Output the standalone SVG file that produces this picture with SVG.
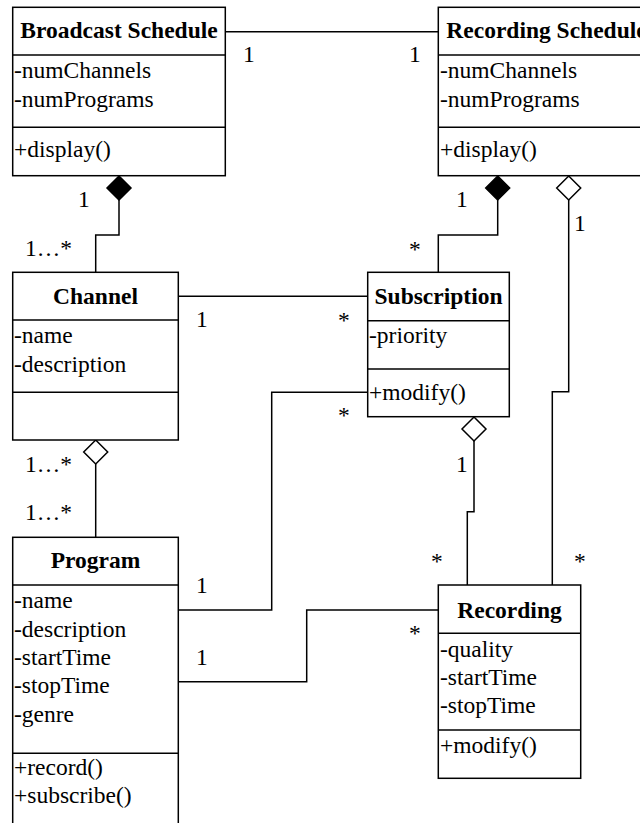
<svg xmlns="http://www.w3.org/2000/svg" width="640" height="823" viewBox="0 0 640 823" font-family="'Liberation Serif', 'Times New Roman', Times, serif">
<style>
  text { font-family: "Liberation Serif", "Times New Roman", Times, serif; font-size: 23.5px; fill: #000; }
  .title { font-weight: bold; text-anchor: middle; }
  .box { fill: #fff; stroke: #000; stroke-width: 1.5; }
  .div { stroke: #000; stroke-width: 1.5; }
  .conn { fill: none; stroke: #000; stroke-width: 1.5; }
  .filled { fill: #000; stroke: #000; stroke-width: 1.5; }
  .hollow { fill: #fff; stroke: #000; stroke-width: 1.5; }
</style>
<rect width="640" height="823" fill="#fff"/>

<g id="connectors">
  <line class="conn" x1="225" y1="31.7" x2="438.3" y2="31.7"/>
  <polyline class="conn" points="119,200 119,235 95.7,235 95.7,272.3"/>
  <polyline class="conn" points="497.7,200 497.7,235 438.3,235 438.3,272.3"/>
  <polyline class="conn" points="568.7,200 568.7,391.7 552.3,391.7 552.3,585"/>
  <line class="conn" x1="178.3" y1="296.3" x2="367.7" y2="296.3"/>
  <polyline class="conn" points="367.7,392.3 271.7,392.3 271.7,610 178.3,610"/>
  <polyline class="conn" points="178.3,681.7 306.7,681.7 306.7,610 438.3,610"/>
  <polyline class="conn" points="474,441 474,511.7 467.3,511.7 467.3,585"/>
  <line class="conn" x1="95.7" y1="464" x2="95.7" y2="537.3"/>
  <polygon class="filled" points="119,176 131,188 119,200 107,188"/>
  <polygon class="filled" points="497.7,176 509.7,188 497.7,200 485.7,188"/>
  <polygon class="hollow" points="568.7,176 580.7,188 568.7,200 556.7,188"/>
  <polygon class="hollow" points="474,417 486,429 474,441 462,429"/>
  <polygon class="hollow" points="95.7,440 107.7,452 95.7,464 83.7,452"/>
  <text x="243" y="62">1</text>
  <text x="409" y="62">1</text>
  <text x="78" y="206.7">1</text>
  <text x="25" y="256">1…*</text>
  <text x="456" y="206.7">1</text>
  <text x="409" y="257">*</text>
  <text x="574" y="230.7">1</text>
  <text x="196" y="327">1</text>
  <text x="338" y="328">*</text>
  <text x="338" y="423">*</text>
  <text x="25" y="471.7">1…*</text>
  <text x="25" y="520">1…*</text>
  <text x="456" y="471.7">1</text>
  <text x="431" y="569">*</text>
  <text x="574" y="569">*</text>
  <text x="196" y="593">1</text>
  <text x="196" y="665">1</text>
  <text x="409" y="641">*</text>
</g>

<g id="broadcast-schedule">
  <rect class="box" x="12.7" y="7.3" width="212.6" height="168.4"/>
  <line class="div" x1="12.7" y1="55" x2="225.3" y2="55"/>
  <line class="div" x1="12.7" y1="127.3" x2="225.3" y2="127.3"/>
  <text class="title" x="119" y="38.3">Broadcast Schedule</text>
  <text x="14" y="78.3">-numChannels</text>
  <text x="14" y="106.7">-numPrograms</text>
  <text x="14" y="157">+display()</text>
</g>

<g id="recording-schedule">
  <rect class="box" x="438.3" y="7.3" width="214" height="168.4"/>
  <line class="div" x1="438.3" y1="55" x2="652.3" y2="55"/>
  <line class="div" x1="438.3" y1="127.3" x2="652.3" y2="127.3"/>
  <text class="title" x="546.5" y="38.3">Recording Schedule</text>
  <text x="440" y="78.3">-numChannels</text>
  <text x="440" y="106.7">-numPrograms</text>
  <text x="440" y="157">+display()</text>
</g>

<g id="channel">
  <rect class="box" x="12.7" y="272.3" width="165.6" height="167.7"/>
  <line class="div" x1="12.7" y1="320" x2="178.3" y2="320"/>
  <line class="div" x1="12.7" y1="392.3" x2="178.3" y2="392.3"/>
  <text class="title" x="95.5" y="304">Channel</text>
  <text x="14" y="343.3">-name</text>
  <text x="14" y="371.7">-description</text>
</g>

<g id="subscription">
  <rect class="box" x="367.7" y="272.3" width="141.6" height="144.4"/>
  <line class="div" x1="367.7" y1="320.7" x2="509.3" y2="320.7"/>
  <line class="div" x1="367.7" y1="369" x2="509.3" y2="369"/>
  <text class="title" x="438.5" y="304">Subscription</text>
  <text x="369" y="343">-priority</text>
  <text x="369" y="400">+modify()</text>
</g>

<g id="program">
  <rect class="box" x="12.7" y="537.3" width="165.6" height="300"/>
  <line class="div" x1="12.7" y1="585" x2="178.3" y2="585"/>
  <line class="div" x1="12.7" y1="753.3" x2="178.3" y2="753.3"/>
  <text class="title" x="95.5" y="568">Program</text>
  <text x="14" y="608.3">-name</text>
  <text x="14" y="636.7">-description</text>
  <text x="14" y="665">-startTime</text>
  <text x="14" y="693.3">-stopTime</text>
  <text x="14" y="721.7">-genre</text>
  <text x="14" y="775">+record()</text>
  <text x="14" y="803.3">+subscribe()</text>
</g>

<g id="recording">
  <rect class="box" x="438.3" y="585" width="142.4" height="193.3"/>
  <line class="div" x1="438.3" y1="633.3" x2="580.7" y2="633.3"/>
  <line class="div" x1="438.3" y1="730" x2="580.7" y2="730"/>
  <text class="title" x="509.5" y="618.3">Recording</text>
  <text x="440" y="656.7">-quality</text>
  <text x="440" y="685">-startTime</text>
  <text x="440" y="713.3">-stopTime</text>
  <text x="440" y="753.3">+modify()</text>
</g>
</svg>
